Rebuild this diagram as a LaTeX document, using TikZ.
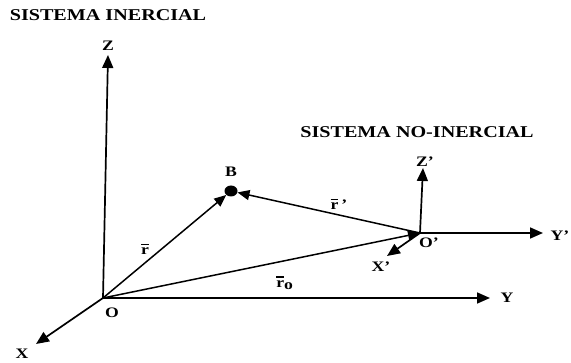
\documentclass[tikz,border=0pt]{standalone}
\usepackage{fontspec}
\setmainfont{Liberation Serif}
\usepackage{graphicx}
\usetikzlibrary{arrows.meta,shapes.geometric}
\newcommand{\wt}[1]{\scalebox{1.22}[1]{#1}}
\newcommand{\rbar}{\leavevmode\rlap{\raisebox{0.66em}{\rule{0.44em}{0.09em}}}\textbf{r}}
\begin{document}
\begin{tikzpicture}[x=1pt,y=-1pt,
  ax/.style={line width=1.7pt,-{Triangle[length=13pt,width=11pt]}},
  vec/.style={line width=1.5pt,-{Triangle[length=12pt,width=10pt]}},
  lbl/.style={font=\bfseries\fontsize{14.5}{14.5}\selectfont,inner sep=0pt},
  ttl/.style={font=\bfseries\fontsize{16.5}{16.5}\selectfont,inner sep=0pt}]
\useasboundingbox (0,0) rectangle (571,363);
% points
\coordinate (O) at (103,298);
\coordinate (Op) at (420,233);
\coordinate (Zt) at (108,55);
\coordinate (Yt) at (490,298);
\coordinate (Xt) at (36,344);
\coordinate (Zpt) at (423,168);
\coordinate (Ypt) at (543,233);
\coordinate (Xpt) at (387,256);
\node[ellipse,fill=black,minimum width=13pt,minimum height=11pt,inner sep=0pt] (B) at (231,191) {};
% titles
\node[ttl] (t1) at (108,15) {\wt{SISTEMA INERCIAL}};
\node[ttl] (t2) at (417,132) {\wt{SISTEMA NO-INERCIAL}};
% axes
\draw[ax] (O) -- (Zt);
\draw[ax] (O) -- (Yt);
\draw[ax] (O) -- (Xt);
\draw[ax] (Op) -- (Zpt);
\draw[ax] (Op) -- (Ypt);
\draw[ax] (Op) -- (Xpt);
% vectors
\draw[vec] (O) -- (B);
\draw[vec] (Op) -- (B);
\draw[vec] (O) -- (Op);
% labels
\node[lbl] (lZ) at (108,46) {\wt{Z}};
\node[lbl] (lY) at (507,298) {\wt{Y}};
\node[lbl] (lX) at (22,354) {\wt{X}};
\node[lbl] (lO) at (112,313) {\wt{O}};
\node[lbl] (lZp) at (425,162) {\wt{Z'}};
\node[lbl] (lYp) at (560,236) {\wt{Y'}};
\node[lbl] (lXp) at (381,267) {\wt{X'}};
\node[lbl] (lOp) at (429,243) {\wt{O'}};
\node[lbl] (lB) at (231,172) {\wt{B}};
\node[lbl] (lr) at (145,249) {\wt{\rbar}};
\node[lbl] (lrp) at (339,204) {\wt{\rbar\,'}};
\node[lbl] (lro) at (285,283) {\wt{\rbar$_{\textbf{o}}$}};
\end{tikzpicture}
\end{document}
